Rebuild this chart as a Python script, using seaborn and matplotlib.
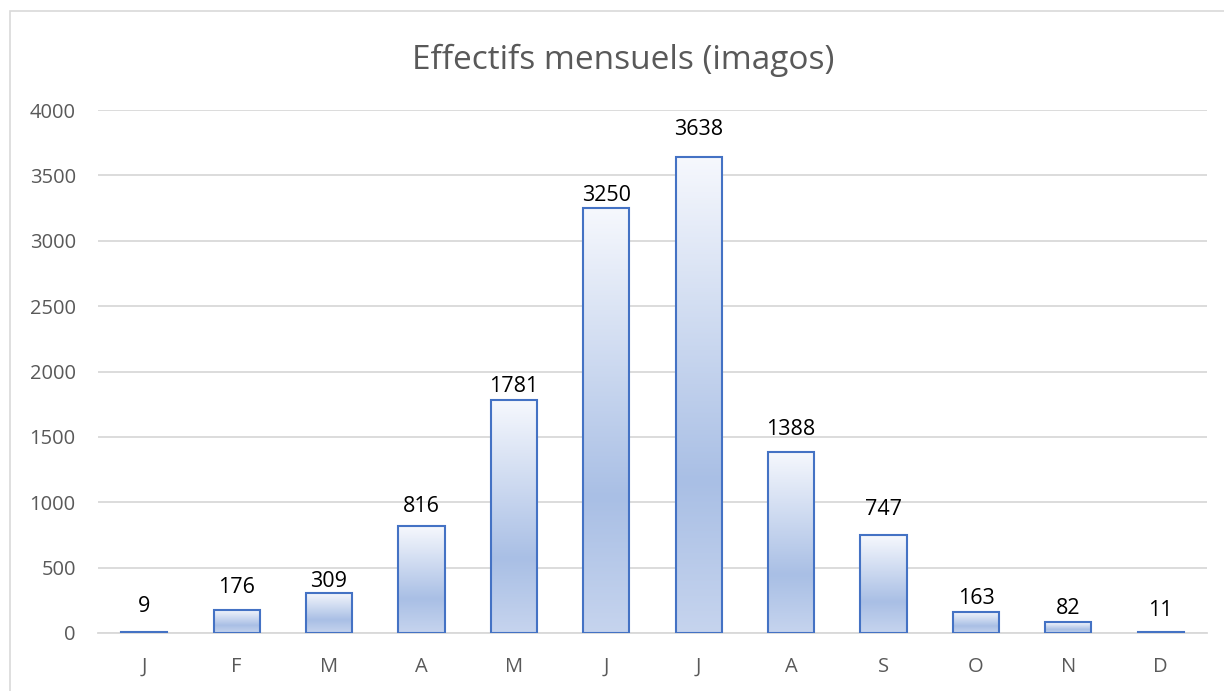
import numpy as np
import pandas as pd
import seaborn as sns
import matplotlib.pyplot as plt
from matplotlib.patches import Rectangle
from matplotlib.colors import LinearSegmentedColormap

months = ["J", "F", "M", "A", "M", "J", "J", "A", "S", "O", "N", "D"]
counts = [9, 176, 309, 816, 1781, 3250, 3638, 1388, 747, 163, 82, 11]
title = "Effectifs mensuels (imagos)"
# gap (px) between bar top and its label, as placed in the original
label_gap = [20, 17, 6, 14, 8, 7, 22, 17, 20, 8, 8, 16]

df = pd.DataFrame({"pos": range(len(months)), "n": counts})

sns.set_style("white")
plt.rcParams['font.family'] = ['Open Sans', 'DejaVu Sans']

fig = plt.figure(figsize=(12.24, 6.91), dpi=100)
ax = fig.add_axes([98 / 1224, 58 / 691, 1109 / 1224, 523 / 691])

sns.barplot(data=df, x="pos", y="n", ax=ax, width=0.5,
            facecolor="none", edgecolor="#4472C4", linewidth=1.5, zorder=3)

# gradient fill like excel: light top, darker lower middle, lighter bottom
grad = LinearSegmentedColormap.from_list(
    "g", [(0, "#C6D4EE"), (0.32, "#A9BFE5"), (1, "#F6F8FD")])
col = np.linspace(0, 1, 256).reshape(-1, 1)
for p, gap in zip(ax.patches, label_gap):
    x0, y0 = p.get_x(), p.get_y()
    w, h = p.get_width(), p.get_height()
    im = ax.imshow(col, cmap=grad, origin="lower", aspect="auto",
                   extent=[x0, x0 + w, y0, y0 + h], zorder=2)
    im.set_clip_path(p)
    ax.annotate(str(int(h)), (x0 + w / 2, h), xytext=(0, gap * 0.72),
                textcoords="offset points", ha="center", va="baseline",
                fontsize=15.5, color="black")

ax.set_xlim(-0.5, len(months) - 0.5)
ax.set_ylim(0, 4000)
ax.set_yticks(range(0, 4001, 500))
ax.set_xticks(range(len(months)))
ax.set_xticklabels(months)
ax.set_xlabel("")
ax.set_ylabel("")
ax.yaxis.grid(True, color="#D9D9D9", linewidth=1.3, zorder=0)
ax.set_axisbelow(True)
for s in ["top", "right", "left"]:
    ax.spines[s].set_visible(False)
ax.spines["bottom"].set_color("#D9D9D9")
ax.spines["bottom"].set_linewidth(1.3)
ax.tick_params(axis="both", length=0, colors="#595959", labelsize=14.5)
ax.tick_params(axis="y", pad=16)
ax.tick_params(axis="x", pad=17)

fig.text(623 / 1224, 1 - 60 / 691, title, ha="center", va="center",
         fontsize=24, color="#595959")

# chart frame, only left and top edges fall inside the image
fig.patches.append(Rectangle((10 / 1224, -0.05), 1.1, 0.05 + 680 / 691,
                             transform=fig.transFigure, fill=False,
                             edgecolor="#D9D9D9", linewidth=1.2))

fig.savefig("out.png", dpi=100)
